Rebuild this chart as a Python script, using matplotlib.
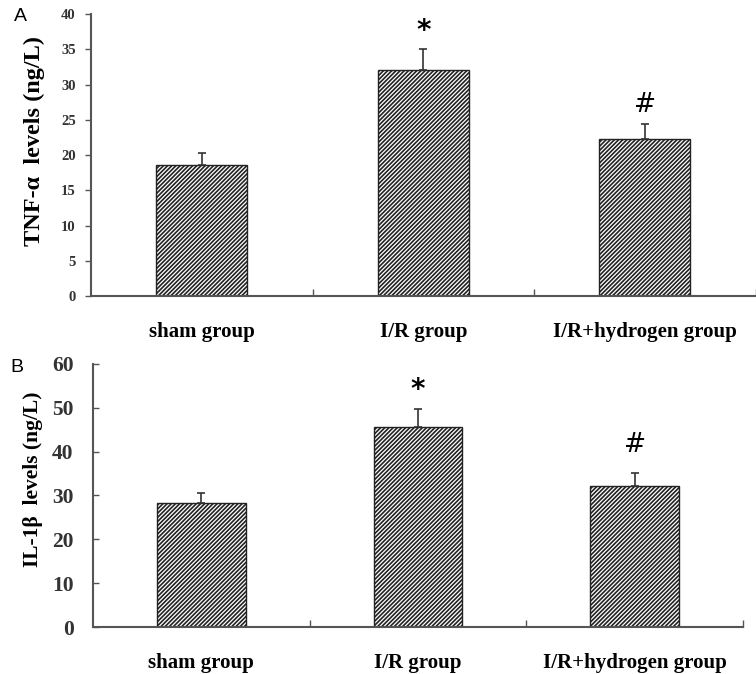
import matplotlib.pyplot as plt
import numpy as np

groups = ['sham group', 'I/R group', 'I/R+hydrogen group']
tnf_mean = [18.6, 32.0, 22.3]
tnf_err = [1.7, 3.0, 2.1]
il1b_mean = [28.3, 45.7, 32.2]
il1b_err = [2.3, 4.1, 2.9]
tnf_marks = ['', '*', '#']
il1b_marks = ['', '*', '#']

serif = 'Liberation Serif'
plt.rcParams['hatch.linewidth'] = 1.2
plt.rcParams['hatch.color'] = 'black'

fig = plt.figure(figsize=(7.56, 6.74), dpi=100)
axA = fig.add_axes([0.1204, 0.5608, 0.879, 0.4184])
axB = fig.add_axes([0.1230, 0.0697, 0.860, 0.3903])


def draw(ax, means, errs, marks, ymax, ystep, ylabel, tick_size, tick_dir, tick_pad, offs):
    x = np.arange(len(groups))
    ax.bar(x, means, width=0.41, color='white', edgecolor='#222222',
           hatch='////////', linewidth=1.0, zorder=2)
    ax.errorbar(x, means, yerr=[[0] * len(x), errs], fmt='none',
                ecolor='#333333', elinewidth=1.2, capsize=3, capthick=1.2, zorder=3)
    for xi, m, e, s in zip(x, means, errs, marks):
        if s:
            ax.text(xi, m + e + offs[s], s, ha='center', va='center',
                    fontsize=20 if s == '*' else 19, family='DejaVu Sans',
                    fontweight='bold' if s == '*' else 'normal')
    ax.set_xlim(-0.5, len(groups) - 0.5)
    ax.set_ylim(0, ymax)
    ax.set_yticks(np.arange(0, ymax + 1, ystep))
    ax.set_xticks(x)
    ax.set_xticklabels(groups, family=serif, fontweight='bold', fontsize=15)
    ax.set_xticks(np.arange(0.5, len(groups), 1.0), minor=True)
    ax.tick_params(axis='x', which='major', length=0, pad=19)
    ax.tick_params(axis='x', which='minor', direction='in', length=5,
                   color='#555555', width=1)
    ax.tick_params(axis='y', direction=tick_dir, length=4, color='#555555',
                   width=1, labelsize=tick_size, labelcolor='#333333', pad=tick_pad)
    for lab in ax.get_yticklabels():
        lab.set_family(serif)
        lab.set_fontweight('bold')
    for sp in ['top', 'right']:
        ax.spines[sp].set_visible(False)
    for sp in ['left', 'bottom']:
        ax.spines[sp].set_color('#555555')
        ax.spines[sp].set_linewidth(1.5)
    ax.set_ylabel(ylabel, family=serif, fontweight='bold')


draw(axA, tnf_mean, tnf_err, tnf_marks, 40, 5, 'TNF-α  levels (ng/L)', 10.5, 'out', 7,
     {'*': 2.6, '#': 2.7})
draw(axB, il1b_mean, il1b_err, il1b_marks, 60, 10, 'IL-1β  levels (ng/L)', 15.5, 'in', 14,
     {'*': 4.2, '#': 6.5})
axA.yaxis.label.set_fontsize(17.5)
axB.yaxis.label.set_fontsize(15.5)
axA.yaxis.set_label_coords(-0.069, 0.55)
axB.yaxis.set_label_coords(-0.077, 0.56)

fig.text(0.018, 0.975, 'A', fontsize=14, family='Liberation Sans', va='center')
fig.text(0.014, 0.455, 'B', fontsize=14, family='Liberation Sans', va='center')

fig.savefig('out.png', dpi=100)
